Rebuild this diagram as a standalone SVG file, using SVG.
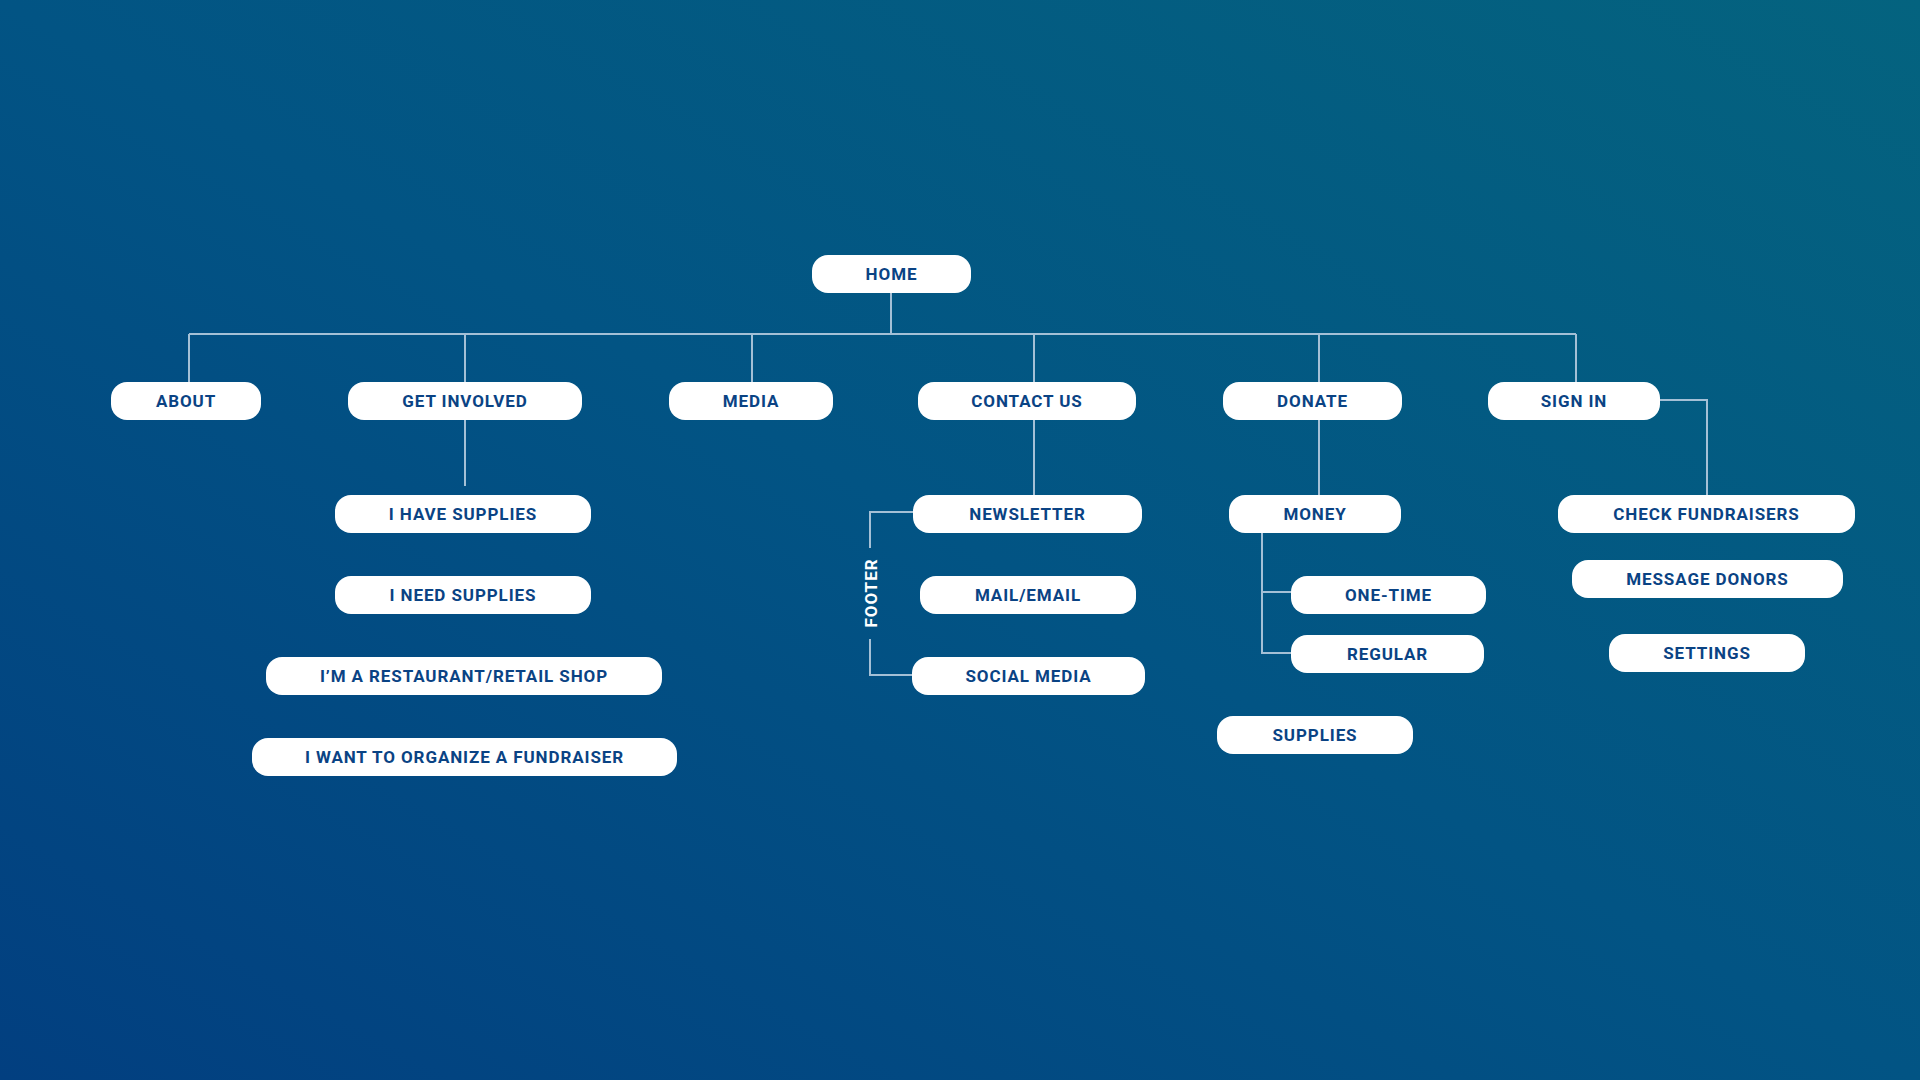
<svg xmlns="http://www.w3.org/2000/svg" width="1920" height="1080" viewBox="0 0 1920 1080">
<defs>
<linearGradient id="bg" x1="0" y1="1" x2="1" y2="0">
<stop offset="0" stop-color="#023f80"/>
<stop offset="0.5" stop-color="#025484"/>
<stop offset="1" stop-color="#04637f"/>
</linearGradient>
<style>
.n rect{fill:#ffffff}
.n text{font-family:Roboto,"Liberation Sans",sans-serif;font-weight:700;font-size:17px;fill:#0a4384;text-anchor:middle;letter-spacing:0.9px}
.c path{fill:none;stroke:#a4c0d6;stroke-width:2}
.lbl{font-family:Roboto,"Liberation Sans",sans-serif;font-weight:700;font-size:17px;fill:#ffffff;text-anchor:middle;letter-spacing:1px}
</style>
</defs>
<rect x="0" y="0" width="1920" height="1080" fill="url(#bg)"/>
<g id="connectors" class="c">
<path d="M891 293V334M189 334H1576M189 334V382M465 334V382M752 334V382M1034 334V382M1319 334V382M1576 334V382"/>
<path d="M465 420V486"/>
<path d="M1034 420V495"/>
<path d="M1319 420V495"/>
<path d="M1660 400H1707V495"/>
<path d="M913 512H870V548M870 639V675H912"/>
<path d="M1262 533V653H1291M1262 592H1291"/>
</g>
<text class="lbl" transform="translate(877 593) rotate(-90)">FOOTER</text>
<g id="home" class="n"><rect x="812" y="255" width="159" height="38" rx="16"/><text x="891.5" y="280">HOME</text></g>
<g id="about" class="n"><rect x="111" y="382" width="150" height="38" rx="16"/><text x="186" y="407">ABOUT</text></g>
<g id="get-involved" class="n"><rect x="348" y="382" width="234" height="38" rx="16"/><text x="465" y="407">GET INVOLVED</text></g>
<g id="media" class="n"><rect x="669" y="382" width="164" height="38" rx="16"/><text x="751" y="407">MEDIA</text></g>
<g id="contact-us" class="n"><rect x="918" y="382" width="218" height="38" rx="16"/><text x="1027" y="407">CONTACT US</text></g>
<g id="donate" class="n"><rect x="1223" y="382" width="179" height="38" rx="16"/><text x="1312.5" y="407">DONATE</text></g>
<g id="sign-in" class="n"><rect x="1488" y="382" width="172" height="38" rx="16"/><text x="1574" y="407">SIGN IN</text></g>
<g id="i-have-supplies" class="n"><rect x="335" y="495" width="256" height="38" rx="16"/><text x="463" y="520">I HAVE SUPPLIES</text></g>
<g id="i-need-supplies" class="n"><rect x="335" y="576" width="256" height="38" rx="16"/><text x="463" y="601">I NEED SUPPLIES</text></g>
<g id="restaurant" class="n"><rect x="266" y="657" width="396" height="38" rx="16"/><text x="464" y="682">I’M A RESTAURANT/RETAIL SHOP</text></g>
<g id="fundraiser" class="n"><rect x="252" y="738" width="425" height="38" rx="16"/><text x="464.5" y="763">I WANT TO ORGANIZE A FUNDRAISER</text></g>
<g id="newsletter" class="n"><rect x="913" y="495" width="229" height="38" rx="16"/><text x="1027.5" y="520">NEWSLETTER</text></g>
<g id="mail-email" class="n"><rect x="920" y="576" width="216" height="38" rx="16"/><text x="1028" y="601">MAIL/EMAIL</text></g>
<g id="social-media" class="n"><rect x="912" y="657" width="233" height="38" rx="16"/><text x="1028.5" y="682">SOCIAL MEDIA</text></g>
<g id="money" class="n"><rect x="1229" y="495" width="172" height="38" rx="16"/><text x="1315" y="520">MONEY</text></g>
<g id="one-time" class="n"><rect x="1291" y="576" width="195" height="38" rx="16"/><text x="1388.5" y="601">ONE-TIME</text></g>
<g id="regular" class="n"><rect x="1291" y="635" width="193" height="38" rx="16"/><text x="1387.5" y="660">REGULAR</text></g>
<g id="supplies" class="n"><rect x="1217" y="716" width="196" height="38" rx="16"/><text x="1315" y="741">SUPPLIES</text></g>
<g id="check-fundraisers" class="n"><rect x="1558" y="495" width="297" height="38" rx="16"/><text x="1706.5" y="520">CHECK FUNDRAISERS</text></g>
<g id="message-donors" class="n"><rect x="1572" y="560" width="271" height="38" rx="16"/><text x="1707.5" y="585">MESSAGE DONORS</text></g>
<g id="settings" class="n"><rect x="1609" y="634" width="196" height="38" rx="16"/><text x="1707" y="659">SETTINGS</text></g>
</svg>
